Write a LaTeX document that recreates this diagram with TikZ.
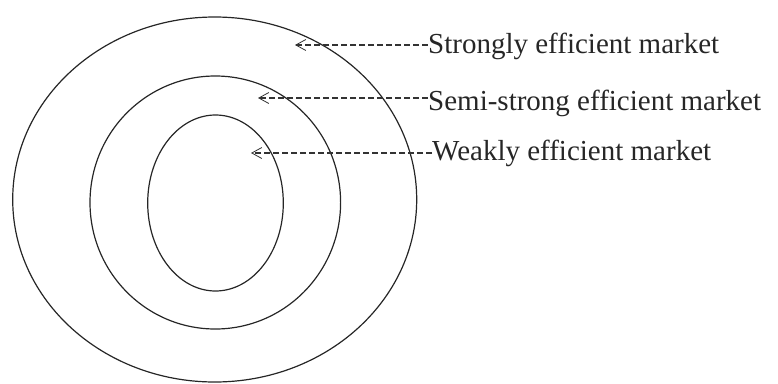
\documentclass[tikz,border=0pt]{standalone}
\usepackage{fontspec}
\setmainfont{Liberation Serif}
\usetikzlibrary{arrows.meta}
\begin{document}
\begin{tikzpicture}[x=1pt,y=-1pt,
  ring/.style={draw=black!85, line width=1.2pt},
  lbl/.style={inner sep=0pt, anchor=base west, font=\fontsize{29}{32}\selectfont, text=black!85},
  conn/.style={draw=black!80, line width=1.1pt, dash pattern=on 6pt off 3pt, -{Straight Barb[length=10pt,width=11pt,line width=0.8pt]}}]
\useasboundingbox (0,0) rectangle (778,383);
\draw[ring] (214.7,199.5) ellipse [x radius=202pt, y radius=182.5pt];
\draw[ring] (215.3,202.5) ellipse [x radius=125.3pt, y radius=126.5pt];
\draw[ring] (215.5,203) ellipse [x radius=67.8pt, y radius=88pt];
\node[lbl] (s) at (428,53) {Strongly efficient market};
\node[lbl] (m) at (428,110) {Semi-strong efficient market};
\node[lbl] (w) at (432,160) {Weakly efficient market};
\coordinate (sTip) at (295,45);
\coordinate (mTip) at (258,98);
\coordinate (wTip) at (251,153);
\draw[conn] (s.west |- sTip) -- (sTip);
\draw[conn] (m.west |- mTip) -- (mTip);
\draw[conn] (w.west |- wTip) -- (wTip);
\end{tikzpicture}
\end{document}
